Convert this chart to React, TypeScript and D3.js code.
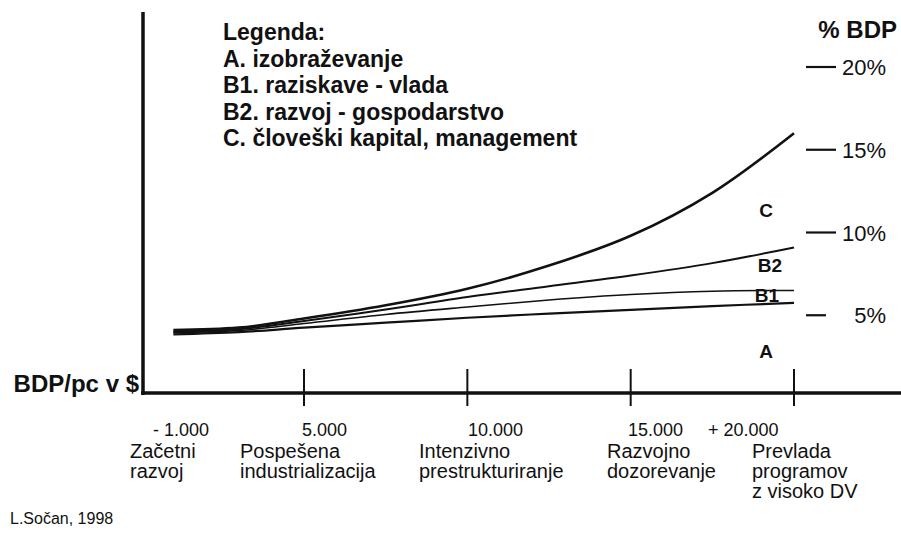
import * as d3 from "d3";

// BDP per capita (USD) at which each share is read
const gdp = [1000, 3000, 5000, 7500, 10000, 12500, 15000, 17500, 20000];
// cumulative share of BDP (%)
const seriesA = [3.85, 3.98, 4.25, 4.55, 4.85, 5.1, 5.33, 5.55, 5.75];
const seriesB1 = [3.95, 4.08, 4.5, 5.05, 5.5, 5.92, 6.25, 6.45, 6.5];
const seriesB2 = [4.0, 4.15, 4.65, 5.35, 6.1, 6.75, 7.4, 8.15, 9.1];
const seriesC = [4.1, 4.25, 4.8, 5.6, 6.6, 8.0, 9.8, 12.4, 16.0];

const series = [
  { key: "A", values: seriesA, width: 2.2 },
  { key: "B1", values: seriesB1, width: 1.6 },
  { key: "B2", values: seriesB2, width: 2 },
  { key: "C", values: seriesC, width: 2.6 },
];

const legendLines = [
  "Legenda:",
  "A. izobraževanje",
  "B1. raziskave - vlada",
  "B2.  razvoj - gospodarstvo",
  "C. človeški kapital, management",
];

const xTicks = [5000, 10000, 15000, 20000];
const yTicks = [20, 15, 10, 5];
const yTickLabels = ["20%", "15%", "10%", "5%"];

const stageNumbers = ["- 1.000", "5.000", "10.000", "15.000", "+ 20.000"];
const stageLabels = [
  ["Začetni", "razvoj"],
  ["Pospešena", "industrializacija"],
  ["Intenzivno", "prestrukturiranje"],
  ["Razvojno", "dozorevanje"],
  ["Prevlada", "programov", "z visoko DV"],
];
// label anchor points (x of number, x of stage text)
const stageNumberX = [153, 302, 468, 628, 708];
const stageTextX = [130, 240, 419, 607, 752];

const font = "'Liberation Sans', Arial, Helvetica, sans-serif";

export default function App() {
  const width = 901, height = 535;
  const axisX = 143, axisY = 393;

  const x = d3.scaleLinear().domain([0, 20000]).range([140.7, 794]);
  const y = d3.scaleLinear().domain([0, 20]).range([398, 67]);

  const line = d3
    .line<number>()
    .x((_, i) => x(gdp[i]))
    .y((d) => y(d))
    .curve(d3.curveCatmullRom.alpha(0.5));

  const endLabels = [
    { text: "C", x: 766, y: 217 },
    { text: "B2", x: 770, y: 272 },
    { text: "B1", x: 767, y: 302 },
    { text: "A", x: 766, y: 358 },
  ];

  return (
    <svg
      width={width}
      height={height}
      style={{ position: "absolute", left: 0, top: 0, background: "#fff" }}
      fontFamily={font}
    >
      {/* axes */}
      <line x1={axisX} x2={axisX} y1={12} y2={axisY + 2} stroke="#111" strokeWidth={3.5} />
      <line x1={axisX - 2} x2={901} y1={axisY} y2={axisY} stroke="#111" strokeWidth={3.5} />
      {xTicks.map((t) => (
        <line key={t} x1={x(t)} x2={x(t)} y1={369} y2={406} stroke="#111" strokeWidth={2} />
      ))}

      {/* right-hand % scale */}
      <text x={897} y={38} textAnchor="end" fontSize={24} fontWeight="bold" fill="#111">
        % BDP
      </text>
      {yTicks.map((t, i) => (
        <g key={t}>
          <line x1={806} x2={t === 5 ? 826 : 836} y1={y(t)} y2={y(t)} stroke="#111" strokeWidth={2.2} />
          <text x={886} y={y(t) + 8} textAnchor="end" fontSize={22} fill="#111">
            {yTickLabels[i]}
          </text>
        </g>
      ))}

      {/* curves */}
      {series.map((s) => (
        <path key={s.key} d={line(s.values) || ""} fill="none" stroke="#111" strokeWidth={s.width} />
      ))}
      {endLabels.map((l) => (
        <text key={l.text} x={l.x} y={l.y} textAnchor="middle" fontSize={19} fontWeight="bold" fill="#111">
          {l.text}
        </text>
      ))}

      {/* legend */}
      {legendLines.map((t, i) => (
        <text key={t} x={223} y={40 + i * 26.6} fontSize={23} fontWeight="bold" fill="#111">
          {t}
        </text>
      ))}

      {/* x axis title and stage labels */}
      <text x={139} y={392} textAnchor="end" fontSize={24} fontWeight="bold" fill="#111">
        BDP/pc v $
      </text>
      {stageNumbers.map((n, i) => (
        <text key={n} x={stageNumberX[i]} y={436} fontSize={18} fill="#111">
          {n}
        </text>
      ))}
      {stageLabels.map((lines, i) =>
        lines.map((t, j) => (
          <text key={t} x={stageTextX[i]} y={458 + j * 20} fontSize={20} fill="#111">
            {t}
          </text>
        ))
      )}

      <text x={10} y={524} fontSize={16} fill="#111">
        L.Sočan, 1998
      </text>
    </svg>
  );
}
